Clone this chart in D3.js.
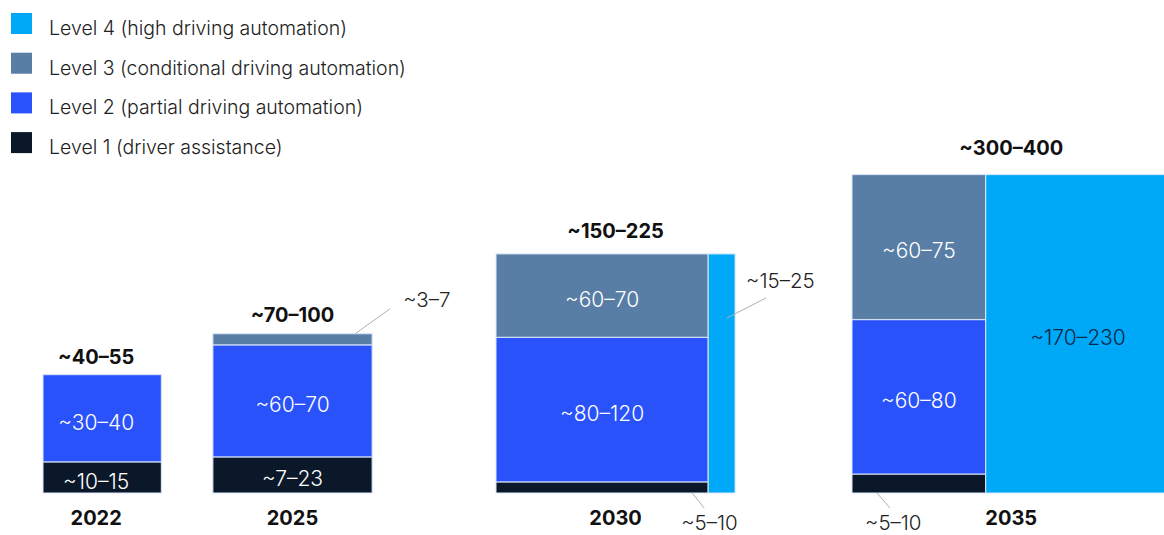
<!DOCTYPE html>
<html>
<head>
<meta charset="utf-8">
<script src="https://cdn.jsdelivr.net/npm/d3@7"></script>
<style>
  body { margin: 0; background: #fff; }
  svg text { font-family: Inter, "Noto Sans", sans-serif; }
</style>
</head>
<body>
<div class="chart"></div>
<script>
// categories and values
var years = [2022, 2025, 2030, 2035];
var totalLabels = ["~40–55", "~70–100", "~150–225", "~300–400"];
var levelNames = ["Level 1 (driver assistance)", "Level 2 (partial driving automation)",
                  "Level 3 (conditional driving automation)", "Level 4 (high driving automation)"];

// estimated size of each segment (used for the areas)
var level1 = [12.5, 19.5, 8, 8.6];
var level2 = [35, 60.5, 104, 70];
var level3 = [0, 6, 60, 65.7];
var level4 = [0, 0, 21.8, 199.5];

// range labels shown on / next to the segments
var level1Labels = ["~10–15", "~7–23", "~5–10", "~5–10"];
var level2Labels = ["~30–40", "~60–70", "~80–120", "~60–80"];
var level3Labels = ["", "~3–7", "~60–70", "~60–75"];
var level4Labels = ["", "", "~15–25", "~170–230"];

var colors = ["#0b1829", "#2a52fb", "#587ea6", "#00a8f8"];

var width = 1164, height = 535;
var baseY = 493;

var svg = d3.select(".chart").append("svg")
    .attr("width", width)
    .attr("height", height);

// left edge of each year block
var x = d3.scaleLinear().domain([2022, 2030, 2035]).range([43, 496, 852]);
// each block is a square whose area follows the total
var side = d3.scaleSqrt().domain([0, 345]).range([0, 319]);

var levels = [level1, level2, level3, level4];
var labels = [level1Labels, level2Labels, level3Labels, level4Labels];

years.forEach(function(yr, i) {
  var total = level1[i] + level2[i] + level3[i] + level4[i];
  var s = side(total);
  var stacked = level1[i] + level2[i] + level3[i];
  var left = x(yr);
  var w = s * stacked / total;
  var y0 = baseY;
  var cx = left + s / 2 - (i == 0 ? 6 : 0);

  var segs = [];
  for (var l = 0; l < 3; l++) {
    var v = levels[l][i];
    if (!v) continue;
    var h = s * v / stacked;
    segs.push({lvl: l, x: left, y: y0 - h, w: w, h: h, label: labels[l][i]});
    y0 -= h;
  }
  if (level4[i]) {
    segs.push({lvl: 3, x: left + w, y: baseY - s, w: s * level4[i] / total, h: s, label: level4Labels[i]});
  }

  var g = svg.append("g");
  g.selectAll("rect").data(segs).enter().append("rect")
      .attr("x", function(d) { return d.x; })
      .attr("y", function(d) { return d.y; })
      .attr("width", function(d) { return d.w; })
      .attr("height", function(d) { return d.h; })
      .attr("fill", function(d) { return colors[d.lvl]; })
      .attr("stroke", "rgba(220,232,250,0.85)")
      .attr("stroke-width", 1.2);

  // labels that fit inside
  g.selectAll(".inlabel").data(segs.filter(function(d) { return d.h > 25 && d.w > 60; }))
    .enter().append("text")
      .attr("class", "inlabel")
      .attr("x", function(d) { return d.x + d.w / 2 - (i == 0 ? 6 : 0); })
      .attr("y", function(d) { return d.y + d.h / 2 + 4; })
      .attr("dy", ".35em")
      .attr("text-anchor", "middle")
      .attr("font-size", 21)
      .attr("font-weight", 300)
      .attr("fill", function(d) { return d.lvl == 3 ? "#0b2a4a" : "#fff"; })
      .text(function(d) { return d.label; });

  // total above, year below
  g.append("text")
      .attr("x", cx)
      .attr("y", baseY - s - (5 + s * 0.045))
      .attr("text-anchor", "middle")
      .attr("font-size", 20)
      .attr("font-weight", 700)
      .attr("fill", "#111")
      .text(totalLabels[i]);

  g.append("text")
      .attr("x", cx)
      .attr("y", baseY + 32)
      .attr("text-anchor", "middle")
      .attr("font-size", 20)
      .attr("font-weight", 700)
      .attr("fill", "#111")
      .text(yr);

  // callouts for thin segments
  segs.filter(function(d) { return !(d.h > 25 && d.w > 60); }).forEach(function(d) {
    var p;
    if (d.lvl == 2) { // thin top segment, label up-right
      p = {x1: d.x + d.w - 17, y1: d.y, x2: d.x + d.w + 18, y2: d.y - 25, tx: d.x + d.w + 31, ty: d.y - 27};
    } else if (d.lvl == 3) { // narrow side bar
      p = {x1: d.x + d.w * 0.7, y1: d.y + 64, x2: d.x + d.w + 31, y2: d.y + 44, tx: d.x + d.w + 11, ty: d.y + 34};
    } else if (i == 2) { // bottom segment, label below right
      p = {x1: d.x + d.w - 16, y1: baseY, x2: d.x + d.w - 4, y2: baseY + 15, tx: d.x + d.w - 27, ty: baseY + 37};
    } else {
      p = {x1: d.x + 25, y1: baseY, x2: d.x + 38, y2: baseY + 15, tx: d.x + 13, ty: baseY + 37};
    }
    g.append("line")
        .attr("x1", p.x1).attr("y1", p.y1)
        .attr("x2", p.x2).attr("y2", p.y2)
        .attr("stroke", "#b0b0b0")
        .attr("stroke-width", 1);
    g.append("text")
        .attr("x", p.tx)
        .attr("y", p.ty)
        .attr("font-size", 20.5)
        .attr("font-weight", 300)
        .attr("fill", "#222")
        .text(d.label);
  });
});

// legend, level 4 on top
var legend = svg.append("g").attr("class", "legend");
var order = [3, 2, 1, 0];
var row = legend.selectAll("g").data(order).enter().append("g")
    .attr("transform", function(d, k) { return "translate(11," + (35 + k * 39.7) + ")"; });
row.append("rect")
    .attr("x", 0).attr("y", -22)
    .attr("width", 21).attr("height", 21)
    .attr("fill", function(d) { return colors[d]; });
row.append("text")
    .attr("x", 38)
    .attr("y", 0)
    .attr("font-size", 19.5)
    .attr("font-weight", 300)
    .attr("fill", "#222")
    .text(function(d) { return levelNames[d]; });
</script>
</body>
</html>
